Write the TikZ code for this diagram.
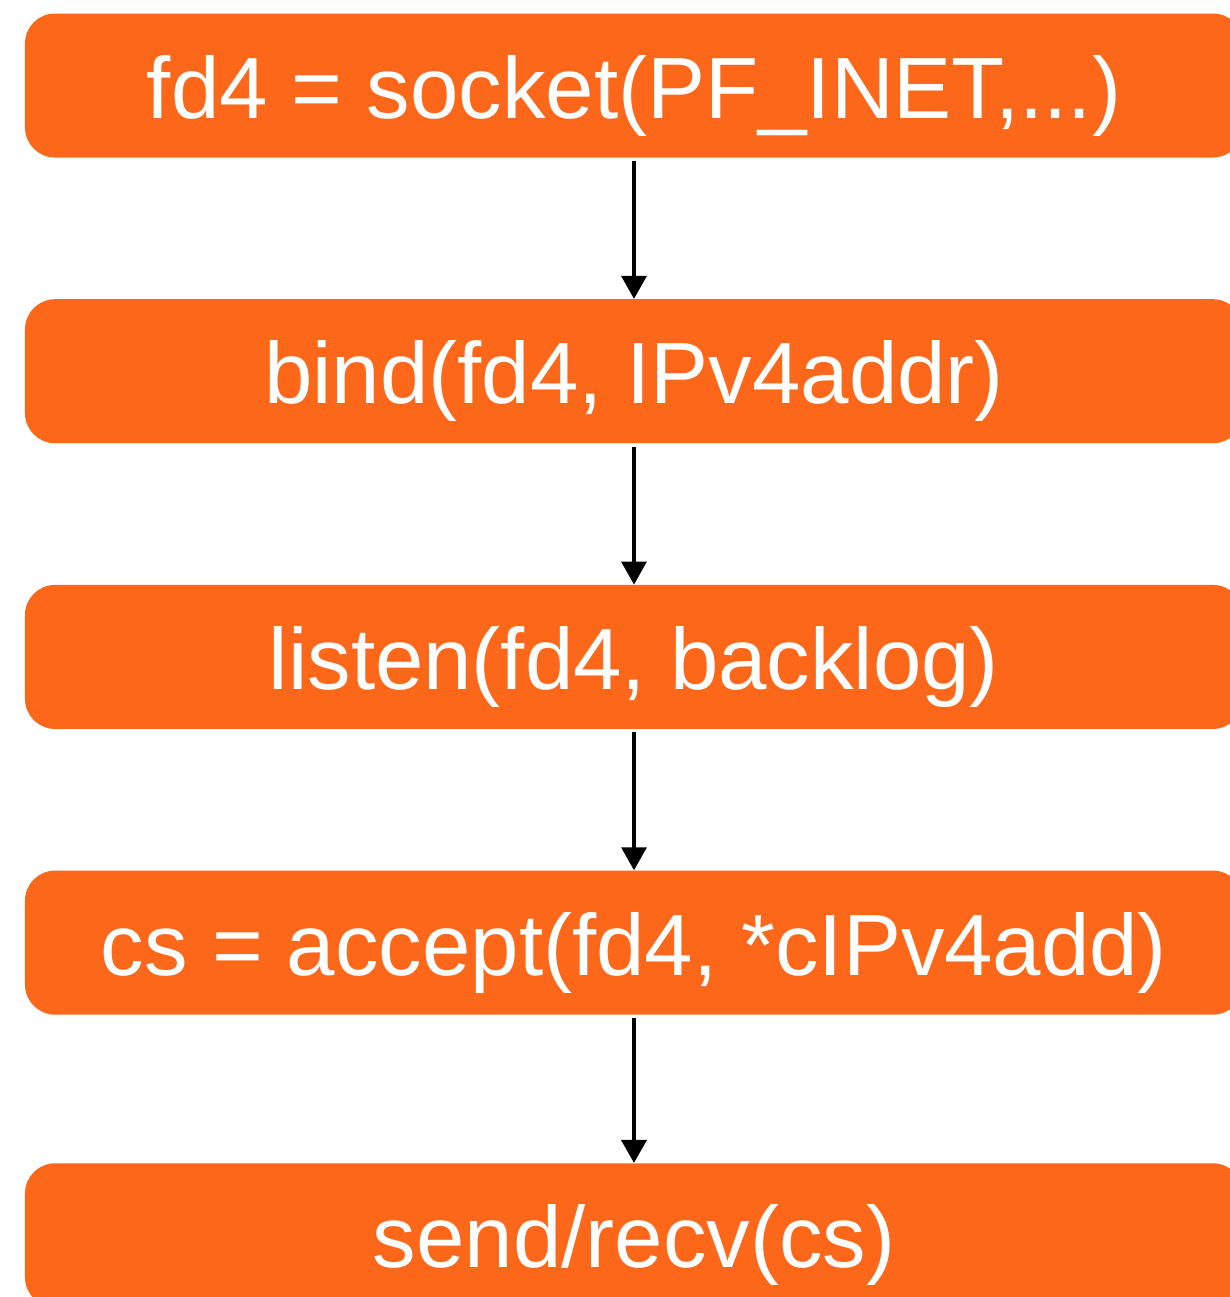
\documentclass[tikz,border=0pt]{standalone}
\usepackage{fontspec}
\setmainfont{Liberation Sans}
\usetikzlibrary{arrows.meta,positioning}
\definecolor{callorange}{RGB}{253,103,26}

\begin{document}
\begin{tikzpicture}[
    every node/.style={
        rectangle, fill=callorange,
        rounded corners=0.6cm,
        text=white,
        font=\fontsize{49.5}{58}\selectfont,
        minimum width=24.36cm,
        minimum height=2.88cm,
        text height=1.7cm, text depth=0.4cm,
        inner sep=0pt
    },
    node distance=2.82cm,
    flow/.style={-{Triangle[length=0.46cm,width=0.5cm]}, line width=2pt, black}
]
\clip (0,0) rectangle (24.6,-25.94);
\node (sock) at (12.68,-1.71) {fd4 = socket(PF\_INET,...)};
\node (bind) [below=of sock] {bind(fd4, IPv4addr)};
\node (listen) [below=of bind] {listen(fd4, backlog)};
\node (accept) [below=of listen] {cs = accept(fd4, *cIPv4add)};
\node (sendrecv) [below=2.96cm of accept] {send/recv(cs)};
\draw[flow] ([yshift=-0.06cm]sock.south) -- (bind.north);
\draw[flow] ([yshift=-0.06cm]bind.south) -- (listen.north);
\draw[flow] ([yshift=-0.06cm]listen.south) -- (accept.north);
\draw[flow] ([yshift=-0.06cm]accept.south) -- (sendrecv.north);
\end{tikzpicture}
\end{document}
